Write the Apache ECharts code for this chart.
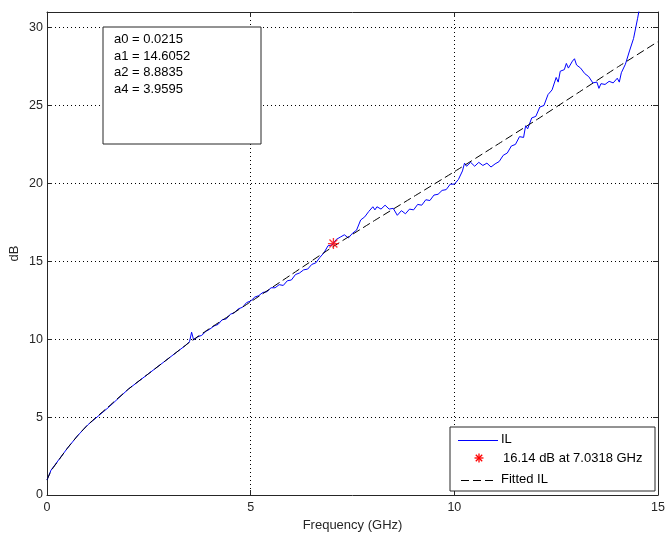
<!DOCTYPE html>
<html>
<head>
<meta charset="utf-8">
<script src="https://cdn.jsdelivr.net/npm/echarts@6/dist/echarts.min.js"></script>
<style>html,body{margin:0;padding:0;background:#fff}#c{width:669px;height:534px}</style>
</head>
<body>
<div id="c"></div>
<script>
// ---- data ----
var ilFreq = [0,0.1,0.2,0.3,0.5,0.75,1.0,1.25,1.5,1.75,2.0,2.25,2.5,2.75,3.0,3.25,3.4,3.5,3.55,3.6,3.7,3.8,3.9,4.0,4.1,4.2,4.3,4.4,4.5,4.6,4.7,4.8,4.9,5.0,5.1,5.2,5.3,5.4,5.5,5.6,5.7,5.8,5.9,6.0,6.1,6.2,6.3,6.4,6.5,6.6,6.7,6.8,6.9,7.0,7.1,7.2,7.3,7.4,7.5,7.6,7.7,7.8,7.9,8.0,8.05,8.1,8.2,8.3,8.4,8.5,8.6,8.7,8.8,8.9,9.0,9.1,9.2,9.3,9.4,9.5,9.6,9.7,9.8,9.9,10.0,10.1,10.2,10.25,10.3,10.4,10.5,10.6,10.7,10.8,10.9,11.0,11.1,11.2,11.3,11.4,11.5,11.6,11.7,11.75,11.8,11.9,12.0,12.1,12.2,12.3,12.4,12.5,12.55,12.6,12.7,12.75,12.8,12.9,12.95,13.0,13.1,13.2,13.3,13.4,13.5,13.55,13.6,13.7,13.8,13.9,14.0,14.05,14.1,14.2,14.3,14.4,14.5,14.6,14.7];
var ilDb = [0.96,1.6,1.95,2.3,3.0,3.8,4.5,5.05,5.6,6.2,6.8,7.3,7.8,8.3,8.8,9.3,9.6,9.85,10.45,9.95,10.15,10.25,10.5,10.65,10.85,10.95,11.25,11.3,11.6,11.7,11.95,12.05,12.35,12.45,12.7,12.8,13.0,13.05,13.3,13.3,13.5,13.45,13.75,13.8,14.15,14.25,14.45,14.5,14.8,14.9,15.25,15.55,16.0,16.05,16.4,16.55,16.7,16.5,16.8,17.0,17.65,17.85,18.2,18.5,18.3,18.5,18.35,18.6,18.35,18.4,17.95,18.25,18.05,18.35,18.3,18.65,18.6,18.95,18.9,19.25,19.3,19.55,19.6,19.95,19.95,20.25,20.8,21.3,21.1,21.35,21.1,21.35,21.15,21.3,21.05,21.25,21.4,21.8,21.95,22.4,22.5,23.0,22.95,23.7,23.5,24.2,24.3,24.9,25.0,25.7,26.0,26.8,26.5,27.2,27.3,27.7,27.4,27.85,28.0,27.6,27.4,27.05,26.85,26.45,26.5,26.1,26.4,26.35,26.55,26.45,26.75,26.5,27.1,27.65,28.5,29.3,30.6,32.0,33.5];
var fitFreq = [0,0.1,0.25,0.5,0.75,1,1.5,2,2.5,3,3.5,4,4.5,5,6,7,8,9,10,11,12,13,14,15];
var fitDb = [0.96,1.55,2.1,3.0,3.8,4.5,5.65,6.8,7.8,8.8,9.8,10.7,11.55,12.4,14.15,15.9,17.55,19.15,20.75,22.4,24.05,25.75,27.45,29.1];
var markFreq = [7.0318];
var markDb = [16.14];
var coefLines = ['a0 = 0.0215','a1 = 14.6052','a2 = 8.8835','a4 = 3.9595'];
var seriesNames = ['IL','16.14 dB at 7.0318 GHz','Fitted IL'];
var xTicks = [0,5,10,15];
var yTicks = [0,5,10,15,20,25,30];

function pairs(a,b){return a.map(function(v,i){return [v,b[i]];});}

var FONT = 'Liberation Sans, Arial, sans-serif';
var star = 'path://M0,-5L0,5M-5,0L5,0M-3.6,-3.6L3.6,3.6M-3.6,3.6L3.6,-3.6';
var AX = '#262626';

var chart = echarts.init(document.getElementById('c'), null, {renderer:'canvas'});
var axisCommon = {
  type:'value',
  axisLine:{show:true,onZero:false,lineStyle:{color:AX,width:1}},
  axisTick:{show:true,inside:true,length:5,lineStyle:{color:AX}},
  splitLine:{show:false}
};
var grid = {left:47,right:11,top:12,bottom:39,containLabel:false,outerBoundsMode:'none'};
var coefText = coefLines.join('\n');

// legend drawn as graphic (box, sample marks and labels)
var LX = 450, LY = 427, LW = 205, LH = 64;
function seg(x1,y1,x2,y2,color,w,dash){
  var s = {stroke:color,lineWidth:w};
  if (dash) s.lineDash = dash;
  return {type:'line',z:101,shape:{x1:x1,y1:y1,x2:x2,y2:y2},style:s};
}
var sx = 479, sy = 458, r = 4.5, d = 3.2;
var legendGraphic = [
  {type:'rect',z:100,shape:{x:LX,y:LY,width:LW,height:LH},style:{fill:'#fff',stroke:AX,lineWidth:1}},
  seg(458,440.5,498,440.5,'#0000ff',1),
  seg(sx,sy-r,sx,sy+r,'#ff0000',1.3),
  seg(sx-r,sy,sx+r,sy,'#ff0000',1.3),
  seg(sx-d,sy-d,sx+d,sy+d,'#ff0000',1.3),
  seg(sx-d,sy+d,sx+d,sy-d,'#ff0000',1.3),
  seg(461,480.5,497,480.5,'#000',1,[8,4]),
  {type:'text',z:101,x:501,y:433,style:{text:seriesNames[0],font:'13px '+FONT,fill:'#000'}},
  {type:'text',z:101,x:503,y:452,style:{text:seriesNames[1],font:'13px '+FONT,fill:'#000'}},
  {type:'text',z:101,x:501,y:473,style:{text:seriesNames[2],font:'13px '+FONT,fill:'#000'}}
];

chart.setOption({
  animation:false,
  grid:grid,
  xAxis:[
    Object.assign({},axisCommon,{position:'bottom',min:xTicks[0],max:xTicks[xTicks.length-1],interval:5,
      name:'Frequency (GHz)',nameLocation:'middle',nameGap:23,
      nameTextStyle:{fontFamily:FONT,fontSize:13,color:AX},
      axisLabel:{fontFamily:FONT,fontSize:12.5,color:AX,margin:6},
      splitLine:{show:true,lineStyle:{color:'#000',type:[1,3],width:1}}}),
    Object.assign({},axisCommon,{position:'top',min:0,max:15,interval:5,axisLabel:{show:false}})
  ],
  yAxis:[
    Object.assign({},axisCommon,{position:'left',min:yTicks[0],max:31,interval:5,
      name:'dB',nameLocation:'middle',nameGap:26,nameMoveOverlap:false,
      nameTextStyle:{fontFamily:FONT,fontSize:13,color:AX},
      axisLabel:{fontFamily:FONT,fontSize:12.5,color:AX,margin:4,showMaxLabel:false},
      splitLine:{show:true,lineStyle:{color:'#000',type:[1,3],width:1}}}),
    Object.assign({},axisCommon,{position:'right',min:0,max:31,interval:5,axisLabel:{show:false}})
  ],
  series:[
    {name:seriesNames[0],type:'line',data:pairs(ilFreq,ilDb),showSymbol:false,symbol:'none',
      lineStyle:{color:'#0000ff',width:1},itemStyle:{color:'#0000ff'},clip:true,z:3},
    {name:seriesNames[2],type:'line',data:pairs(fitFreq,fitDb),showSymbol:false,symbol:'none',smooth:0.2,
      lineStyle:{color:'#000',width:1,type:[8,4]},itemStyle:{color:'#000'},clip:true,z:4},
    {name:seriesNames[1],type:'scatter',data:pairs(markFreq,markDb),symbol:star,symbolSize:11,symbolKeepAspect:true,
      itemStyle:{color:'none',borderColor:'#ff0000',borderWidth:1.3},z:5}
  ],
  graphic:[
    {type:'rect',z:100,shape:{x:103,y:27,width:158,height:117},
      style:{fill:'#fff',stroke:AX,lineWidth:1}},
    {type:'text',z:101,x:114,y:31,
      style:{text:coefText,font:'13px '+FONT,lineHeight:16.7,fill:'#000'}}
  ].concat(legendGraphic)
});
</script>
</body>
</html>
